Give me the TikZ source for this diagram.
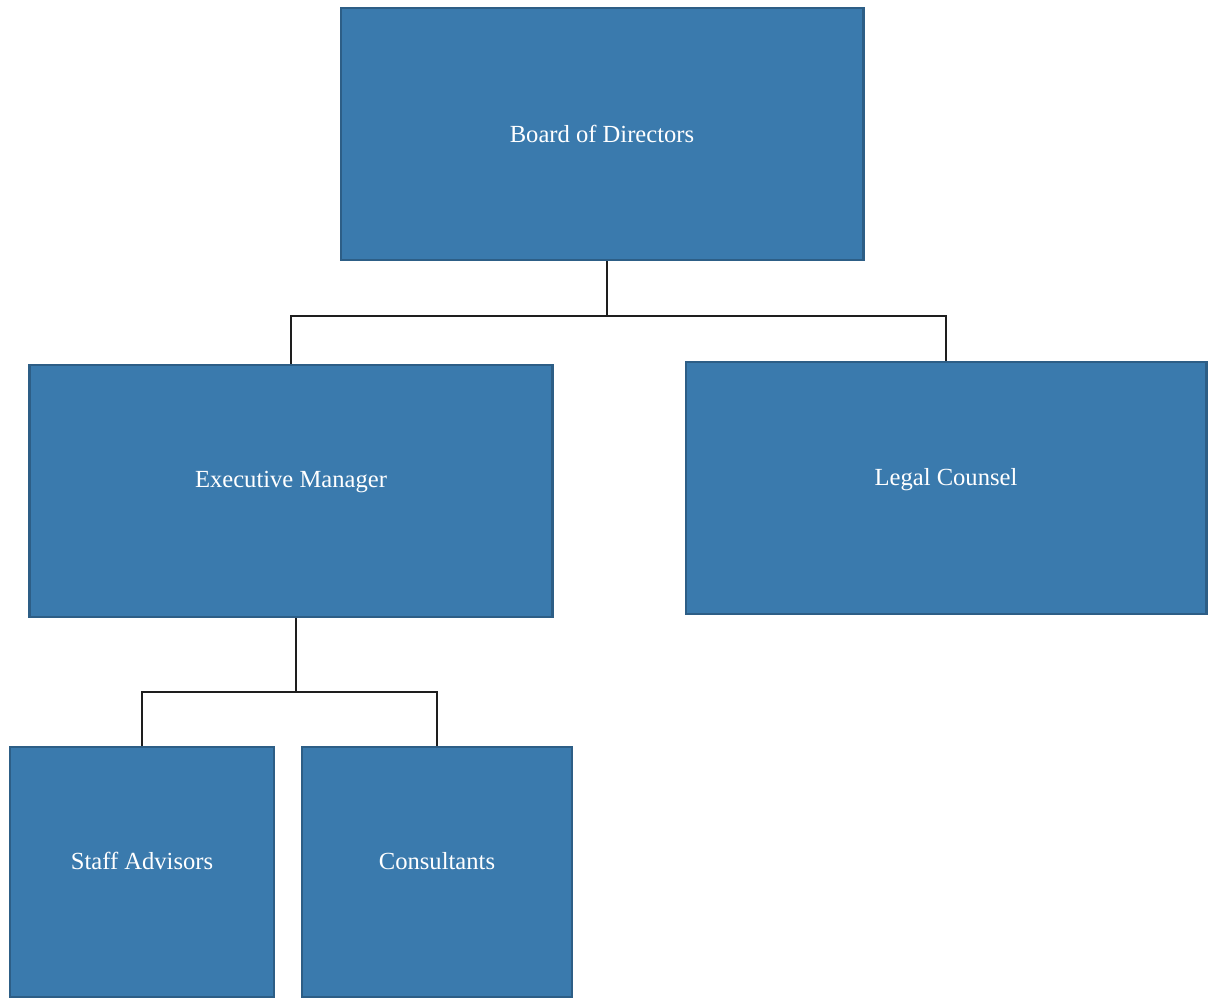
\documentclass[tikz,border=0pt]{standalone}
\usepackage{fontspec}
\setmainfont{Liberation Serif}
\usetikzlibrary{positioning,calc}
\definecolor{OrgFill}{HTML}{3A7AAD}
\definecolor{OrgEdge}{HTML}{2D5E86}
\definecolor{OrgLine}{HTML}{1E1E1E}

\begin{document}
\begin{tikzpicture}[
  x=0.02cm,y=-0.02cm,
  unit/.style={draw=OrgEdge,line width=1.2pt,fill=OrgFill,text=white,font=\fontsize{14}{16}\selectfont,inner sep=0pt},
  wide/.style={unit,minimum width=10.46cm,minimum height=5.04cm},
  small/.style={unit,minimum width=5.35cm,minimum height=5cm},
  link/.style={draw=OrgLine,line width=0.9pt}
]
  \useasboundingbox (0,0) rectangle (1214,999);
  \node[wide] (board) at (602,134) {Board of Directors};
  \node[wide] (exec) at (291,491) {\raisebox{0.46cm}{Executive Manager}};
  \node[wide,minimum width=10.42cm] (legal) at (946,488) {\raisebox{0.46cm}{Legal Counsel}};
  \node[small,minimum width=5.28cm] (staff) at (142,872) {\raisebox{0.46cm}{Staff Advisors}};
  \node[small,minimum width=5.4cm] (cons) at (437,872) {\raisebox{0.46cm}{Consultants}};
  \coordinate (top bus) at (607,316);
  \coordinate (low bus) at (296,692);
  % board to first row
  \draw[link] (board.south -| top bus) -- (top bus);
  \draw[link] (exec.north) |- (top bus) -| (legal.north);
  % manager to advisors
  \draw[link] (exec.south -| low bus) -- (low bus);
  \draw[link] (staff.north) |- (low bus) -| (cons.north);
\end{tikzpicture}
\end{document}
